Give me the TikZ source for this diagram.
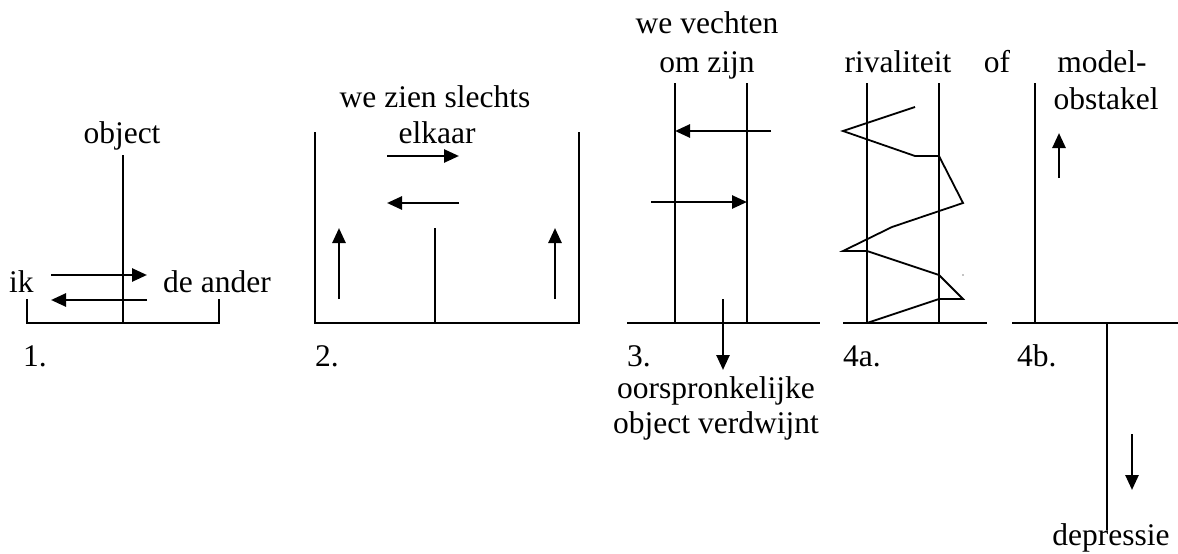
\documentclass[tikz,border=0pt]{standalone}
\usepackage{fontspec}
\setmainfont{Liberation Serif}
\usetikzlibrary{arrows.meta}
\begin{document}
\begin{tikzpicture}[x=1pt,y=-1pt,
  wall/.style={line width=1.8pt},
  arr/.style={line width=2.6pt,-{Triangle[length=15pt,width=13pt]}},
  lbl/.style={anchor=base,inner sep=0pt,font=\fontsize{31.5}{37}\selectfont},
  lbll/.style={anchor=base west,inner sep=0pt,font=\fontsize{31.5}{37}\selectfont}]
\useasboundingbox (0,0) rectangle (1178,554);
% ---- 1 ----
\draw[wall] (27,299) -- (27,323) -- (219,323) -- (219,299);
\draw[wall] (123,155) -- (123,323);
\coordinate (a1s) at (51,275); \coordinate (a1e) at (147,275);
\coordinate (a2s) at (147,300); \coordinate (a2e) at (51,300);
\draw[arr] (a1s) -- (a1e);
\draw[arr] (a2s) -- (a2e);
\node[lbl] (obj) at (122,143) {object};
\node[lbll] (ik) at (9,292) {ik};
\node[lbll] (ander) at (163,292) {de ander};
\node[lbll] (n1) at (23,366) {1.};
% ---- 2 ----
\draw[wall] (315,132) -- (315,323) -- (579,323) -- (579,132);
\draw[wall] (435,228) -- (435,323);
\coordinate (b1s) at (387,156); \coordinate (b1e) at (459,156);
\coordinate (b2s) at (459,203); \coordinate (b2e) at (387,203);
\coordinate (b3s) at (339,299); \coordinate (b3e) at (339,228);
\coordinate (b4s) at (555,299); \coordinate (b4e) at (555,228);
\draw[arr] (b1s) -- (b1e);
\draw[arr] (b2s) -- (b2e);
\draw[arr] (b3s) -- (b3e);
\draw[arr] (b4s) -- (b4e);
\node[lbl] (zien) at (435,107) {we zien slechts};
\node[lbl] (elk) at (437,143) {elkaar};
\node[lbll] (n2) at (315,366) {2.};
% ---- 3 ----
\draw[wall] (627,323) -- (820,323);
\draw[wall] (675,83) -- (675,323);
\draw[wall] (747,83) -- (747,323);
\coordinate (c1s) at (771,131); \coordinate (c1e) at (675,131);
\coordinate (c2s) at (651,202); \coordinate (c2e) at (747,202);
\coordinate (c3s) at (723,299); \coordinate (c3e) at (723,370);
\draw[arr] (c1s) -- (c1e);
\draw[arr] (c2s) -- (c2e);
\draw[arr] (c3s) -- (c3e);
\node[lbl] (vech) at (707,34) {we vechten};
\node[lbl] (om) at (707,72) {om zijn};
\node[lbll] (n3) at (627,366) {3.};
\node[lbl] (oors) at (716,398) {oorspronkelijke};
\node[lbl] (objv) at (716,433) {object verdwijnt};
% ---- 4a ----
\draw[wall] (843,323) -- (987,323);
\draw[wall] (867,83) -- (867,323);
\draw[wall] (939,83) -- (939,323);
\draw[line width=1.8pt,line join=miter] (915,107) -- (843,131) -- (915,156) -- (939,156) -- (963,203)
  -- (892,227) -- (843,251) -- (867,251) -- (939,275) -- (963,299) -- (939,299) -- (867,323);
\fill (963,275) circle (0.6pt);
\node[lbl] (riv) at (898,72) {rivaliteit};
\node[lbl] (of) at (997,72) {of};
\node[lbll] (n4a) at (843,366) {4a.};
% ---- 4b ----
\draw[wall] (1012,323) -- (1178,323);
\draw[wall] (1035,83) -- (1035,323);
\draw[wall] (1107,323) -- (1107,530);
\coordinate (d1s) at (1059,178); \coordinate (d1e) at (1059,133);
\coordinate (d2s) at (1132,434); \coordinate (d2e) at (1132,490);
\draw[arr] (d1s) -- (d1e);
\draw[arr] (d2s) -- (d2e);
\node[lbl] (model) at (1102,72) {model-};
\node[lbl] (obst) at (1106,109) {obstakel};
\node[lbll] (n4b) at (1017,366) {4b.};
\node[lbl] (depr) at (1111,545) {depressie};
\end{tikzpicture}
\end{document}
